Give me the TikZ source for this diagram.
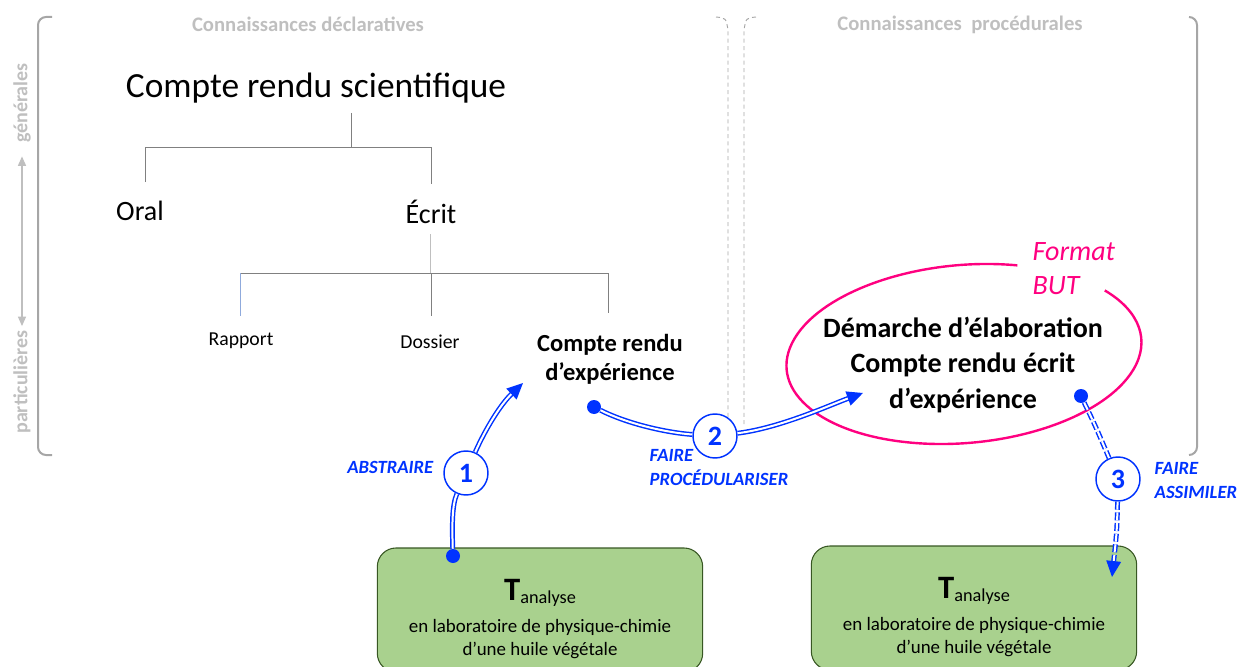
\documentclass[tikz,border=0pt]{standalone}
\usepackage{fontspec}
\setmainfont{Carlito}
\usetikzlibrary{arrows.meta,positioning}
\definecolor{bleu}{RGB}{0,51,255}
\definecolor{rose}{RGB}{255,0,128}
\definecolor{gris}{RGB}{166,166,166}
\definecolor{grisclair}{RGB}{191,191,191}
\definecolor{grisarbre}{RGB}{128,128,128}
\definecolor{bleuarbre}{RGB}{143,170,220}
\definecolor{vert}{RGB}{169,209,142}
\definecolor{vertfonce}{RGB}{56,87,35}

\begin{document}
\begin{tikzpicture}[x=0.75pt,y=-0.75pt,
  crochet/.style={draw=gris, line width=1.5pt, rounded corners=6pt},
  separation/.style={draw=gris, line width=0.7pt, dash pattern=on 3pt off 2.5pt},
  entete/.style={text=grisclair, font=\fontsize{15.5}{18}\selectfont\bfseries},
  cote/.style={text=grisclair, inner sep=0pt, font=\fontsize{15}{18}\selectfont\bfseries},
  arbre/.style={draw=grisarbre, line width=0.6pt},
  fleche/.style={draw=bleu, line width=1.1pt, double=white, double distance=1.5pt,
    -{Triangle[length=12pt,width=11pt]}},
  pointille/.style={fleche, dash pattern=on 6pt off 2pt},
  puce/.style={circle, fill=bleu, inner sep=0pt, minimum size=10.5pt},
  etape/.style={circle, draw=bleu, line width=1.1pt, fill=white, inner sep=0pt,
    minimum size=33pt, text=bleu, font=\fontsize{21}{24}\selectfont\bfseries},
  action/.style={text=bleu, align=left, font=\fontsize{14}{18}\selectfont\bfseries\itshape},
  boite/.style={draw=vertfonce, line width=0.8pt, fill=vert, rounded corners=14pt,
    minimum width=244pt, minimum height=93pt},
  texteboite/.style={align=center, font=\fontsize{14.2}{17}\selectfont}
]
\path[use as bounding box, clip] (0,0) rectangle (1247,667);

% Cadres
\draw[crochet] (52,17) -- (38,17) -- (38,455) -- (52,455);
\draw[crochet] (1189,17) -- (1197,17) -- (1197,455) -- (1189,455);
\draw[separation] (716,17) .. controls (726,18) .. (728,30) -- (728,420);
\draw[separation] (756,17) .. controls (746,18) .. (744,30) -- (744,425);

% Entetes
\node[entete] (decl) at (308,24) {Connaissances déclaratives};
\node[entete] (proc) at (960,25) {Connaissances\ \ procédurales};
\node[cote, rotate=90] (gen) at (22,103) {générales};
\node[cote, rotate=90] (part) at (22,382) {particulières};
\draw[draw=grisclair, line width=0.8pt, {Triangle[length=7pt,width=6pt]}-{Triangle[length=7pt,width=6pt]},
  shorten <=10pt, shorten >=3pt] (gen.west) -- (part.east);

% Arbre
\node[font=\fontsize{26.5}{30}\selectfont] (crs) at (316,88) {Compte rendu scientifique};
\node[font=\fontsize{21}{24}\selectfont] (oral) at (140,211) {Oral};
\node[font=\fontsize{21}{24}\selectfont] (ecrit) at (431,212) {Écrit};
\node[font=\fontsize{14.8}{18}\selectfont] (rapport) at (241,341) {Rapport};
\node[font=\fontsize{14.8}{18}\selectfont] (dossier) at (430,342) {Dossier};
\node[align=center, font=\fontsize{18.4}{22}\selectfont\bfseries] (cre) at (610,359)
  {Compte rendu\\d’expérience};

\coordinate (j0) at (351,113);
\coordinate (j1) at (351,147);
\draw[arbre] (j0) -- (j1);
\draw[arbre] (145,182) -- (145,147) -- (431,147) -- (431,184);
\coordinate (k0) at (430,234);
\coordinate (k1) at (430,273);
\draw[draw=grisclair, line width=0.6pt] (k0) -- (k1);
\draw[arbre] (240,273) -- (608,273) -- (608,313);
\draw[arbre] (431,273) -- (431,316);
\draw[draw=bleuarbre, line width=0.6pt] (240,273) -- (240,316);

% Format BUT
\coordinate (E) at (964,354);
\draw[draw=rose, line width=1.8pt, rotate around={5:(E)}]
  (E) ++(-70:178 and 89) arc[start angle=-70, end angle=-395, x radius=178, y radius=89];
\node[text=rose, align=left, anchor=west, font=\fontsize{21}{25.5}\selectfont\itshape] (but)
  at (1028,269) {Format\\BUT};
\node[align=center, font=\fontsize{21}{26.5}\selectfont\bfseries] (dem) at (963,365)
  {Démarche d’élaboration\\Compte rendu écrit\\d’expérience};

% Taches
\node[boite] (b1) at (540,610) {};
\node[texteboite] (tb1) at (540,619)
  {{\fontsize{24.5}{26}\selectfont\bfseries T}\raisebox{-2pt}{\fontsize{13.7}{16}\selectfont analyse}\\[7pt]
   en laboratoire de physique-chimie\\d’une huile végétale};
\node[boite] (b2) at (974,608) {};
\node[texteboite] (tb2) at (974,617)
  {{\fontsize{24.5}{26}\selectfont\bfseries T}\raisebox{-2pt}{\fontsize{13.7}{16}\selectfont analyse}\\[7pt]
   en laboratoire de physique-chimie\\d’une huile végétale};

% Fleches
\node[puce] (d1) at (453,556) {};
\node[etape] (c1) at (466,473) {1};
\coordinate (e1) at (523,383);
\draw[fleche, -] (d1) .. controls (452,525) and (452,505) .. (c1);
\draw[fleche] (c1) .. controls (485,430) and (500,405) .. (e1);
\node[action, anchor=east] (abs) at (438,467) {ABSTRAIRE};

\node[puce] (d2) at (594,407) {};
\node[etape] (c2) at (715,436) {2};
\coordinate (e2) at (863,393);
\draw[fleche, -] (d2) .. controls (630,425) and (670,433) .. (c2);
\draw[fleche] (c2) .. controls (780,428) and (830,405) .. (e2);
\node[action, anchor=west] (proced) at (645,468) {FAIRE\\PROCÉDULARISER};

\node[puce] (d3) at (1081,396) {};
\node[etape] (c3) at (1118,479) {3};
\coordinate (e3) at (1112,577);
\draw[pointille, -] (d3) .. controls (1095,425) .. (c3);
\draw[pointille] (c3) .. controls (1117,530) .. (e3);
\node[action, anchor=west] (assim) at (1150,481) {FAIRE\\ASSIMILER};

\end{tikzpicture}
\end{document}
